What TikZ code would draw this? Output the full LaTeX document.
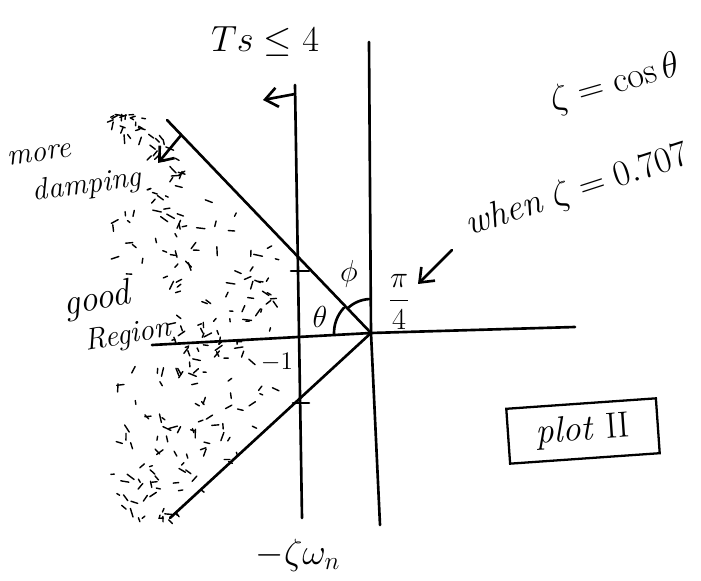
\documentclass[tikz,border=0pt]{standalone}
\usepackage{amsmath,amssymb}
\usepackage{tikz}
\usetikzlibrary{arrows.meta, positioning, calc}

\tikzset{
  handline/.style={line width=1.5pt, line cap=round},
  handtext/.style={font=\LARGE\itshape},
  speck/.style={line width=0.8pt, line cap=round},
}

\begin{document}
\begin{tikzpicture}[x=0.02cm, y=-0.02cm, >={Straight Barb[length=7pt,width=11pt]}]
  \useasboundingbox (0,0) rectangle (701,581);

  % origin, axes and the settling time line
  \coordinate (O) at (371,333);
  \coordinate (reL) at (152,345);
  \coordinate (reR) at (575,327);
  \coordinate (imT) at (369,42);
  \coordinate (imB) at (380,525);
  \coordinate (sgT) at (295,85);
  \coordinate (sgB) at (302,518);
  \coordinate (sgJ) at (295,94);
  \coordinate (sgL) at (263,100);
  \coordinate (rayU) at (167,120);
  \coordinate (rayD) at (170,518);
  \coordinate (tkU) at (300,271);
  \coordinate (tkD) at (301,403);

  % shaded region
  \pgfmathsetseed{42}
  \foreach \i in {1,...,260} {
    \pgfmathsetmacro{\yy}{112+rnd*408}
    \pgfmathsetmacro{\xr}{min(288, 371-abs(\yy-333)*1.02)-10}
    \pgfmathsetmacro{\xl}{ifthenelse(abs(\yy-322)<42,172,112)}
    \pgfmathsetmacro{\xx}{\xl+(\xr-\xl)*rnd}
    \pgfmathsetmacro{\aa}{rnd*180}
    \pgfmathsetmacro{\ll}{3+rnd*6}
    \pgfmathtruncatemacro{\hideit}{(\xx>256 && \xx<296 && \yy>342 && \yy<382) || (\xx<145 && \yy>138 && \yy<205)}
    \ifnum\hideit=0
      \draw[speck] (\xx,\yy) -- ++(\aa:\ll);
    \fi
  }

  \draw[handline] (reL) -- (O) -- (reR);
  \draw[handline] (imT) -- (O) -- (imB);
  \draw[handline] (sgT) -- (sgB);
  \draw[handline, ->] (sgJ) -- (sgL);
  \draw[handline] (rayU) -- (O) -- (rayD);
  \draw[handline] ($(tkU)+(-9,0)$) -- ($(tkU)+(9,0)$);
  \draw[handline] ($(tkD)+(-8,0)$) -- ($(tkD)+(8,0)$);

  % angles
  \draw[handline] ($(O)+(182:0.74cm)$) arc[start angle=182, end angle=137, radius=0.74cm];
  \draw[handline] ($(O)+(133:0.68cm)$) arc[start angle=133, end angle=93, radius=0.68cm];
  \node[font=\LARGE] (theta) at (320,317) {$\theta$};
  \node[font=\LARGE] (phi) at (349,274) {$\phi$};
  \node[font=\LARGE] (pi4) at (399,302) {$\displaystyle\frac{\pi}{4}$};

  % labels
  \node[font=\huge] (ts) at (265,42) {$Ts \leq 4$};
  \node[font=\huge, rotate=16] (zc) at (615,84) {$\zeta = \cos\theta$};
  \node[font=\huge, rotate=18, anchor=south west] (when) at (468,250) {\textit{when} $\zeta = 0.707$};
  \coordinate (wT) at (452,250);
  \coordinate (wH) at (418,284);
  \draw[handline, ->] (wT) -- (wH);

  \node[handtext, rotate=8, align=left] (damp) at (75,172) {more\\\hspace{0.4cm}damping};
  \coordinate (mdT) at ($(rayU)!0.07!(O)$);
  \coordinate (mdH) at (158,163);
  \draw[handline, ->] (mdT) -- (mdH);

  \node[handtext, rotate=10, align=left] (good) at (117,316) {{\huge good}\\\hspace{0.3cm}Region};
  \node[font=\Large] (m1) at (277,362) {$-1$};
  \node[font=\huge] (zwn) at (298,555) {$-\zeta\omega_n$};

  \node[draw, line width=1.3pt, rotate=4, minimum width=3cm, minimum height=1.1cm, font=\huge] (plot) at (583,431) {\textit{plot} II};
\end{tikzpicture}
\end{document}
